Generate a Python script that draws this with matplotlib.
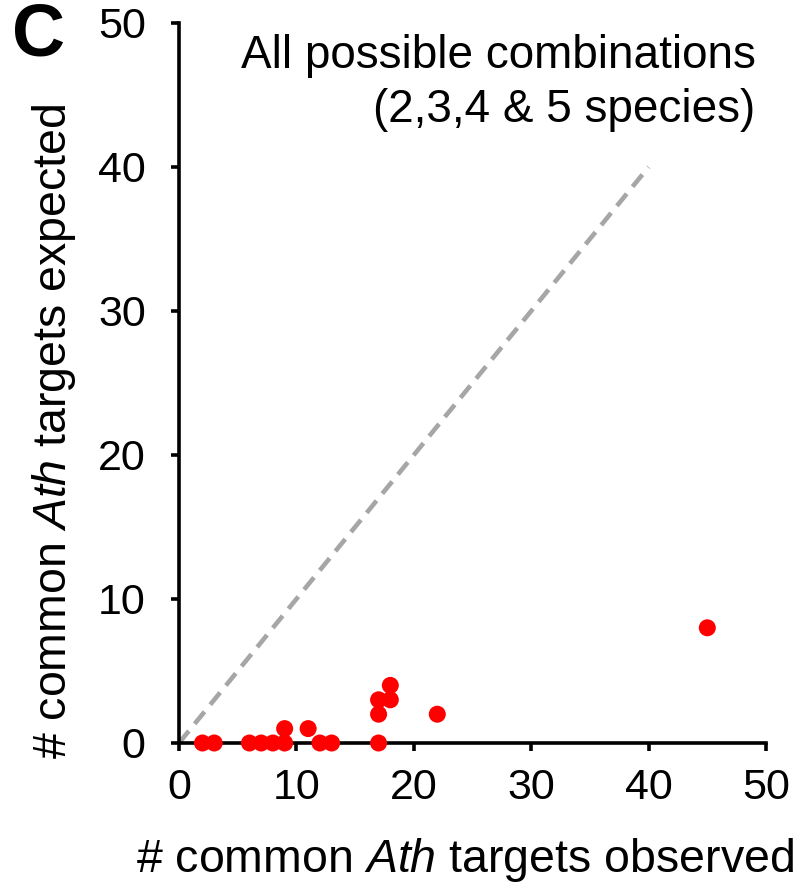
import matplotlib
matplotlib.use("Agg")
import matplotlib.pyplot as plt

plt.rcParams['font.family'] = ['Liberation Sans', 'DejaVu Sans']
plt.rcParams['mathtext.fontset'] = 'custom'
plt.rcParams['mathtext.rm'] = 'Liberation Sans'
plt.rcParams['mathtext.it'] = 'Liberation Sans:italic'

observed = [2, 3, 6, 7, 8, 9, 9, 11, 12, 13, 17, 17, 17, 18, 18, 22, 45]
expected = [0, 0, 0, 0, 0, 0, 1, 1, 0, 0, 0, 2, 3, 3, 4, 2, 8]
diag_x = [0, 40]
diag_y = [0, 40]
xticks = [0, 10, 20, 30, 40, 50]
yticks = [0, 10, 20, 30, 40, 50]

fig = plt.figure(figsize=(8.09, 8.93), dpi=100)
ax = fig.add_axes([179/809, 1-743/893, (766-179)/809, (743-23)/893])

ax.plot(diag_x, diag_y, color='#a6a6a6', lw=3.3, ls=(0, (3.4, 2.0)), zorder=1)
ax.scatter(observed, expected, s=150, color='#ff0000', edgecolors='none', zorder=3, clip_on=False)

ax.set_xlim(0, 50)
ax.set_ylim(0, 50)
ax.set_xticks(xticks)
ax.set_yticks(yticks)
for s in ['top', 'right']:
    ax.spines[s].set_visible(False)
for s in ['left', 'bottom']:
    ax.spines[s].set_linewidth(2.6)
ax.tick_params(axis='both', direction='out', length=6, width=2.6, labelsize=31)
ax.tick_params(axis='x', pad=12)
ax.tick_params(axis='y', pad=18)

ax.set_xlabel('# common $\\it{Ath}$ targets observed', fontsize=33.5)
ax.set_ylabel('# common $\\it{Ath}$ targets expected', fontsize=33.5)
ax.xaxis.set_label_coords(0.487, -0.129)
ax.yaxis.set_label_coords(-0.172, 0.433)

ax.text(0.982, 0.985, 'All possible combinations\n(2,3,4 & 5 species)', transform=ax.transAxes,
        ha='right', va='top', fontsize=33, linespacing=1.3)
fig.text(12/809, 1-2/893, 'C', fontsize=53, fontweight='bold', va='top', ha='left')

fig.savefig('out.png', dpi=100)
